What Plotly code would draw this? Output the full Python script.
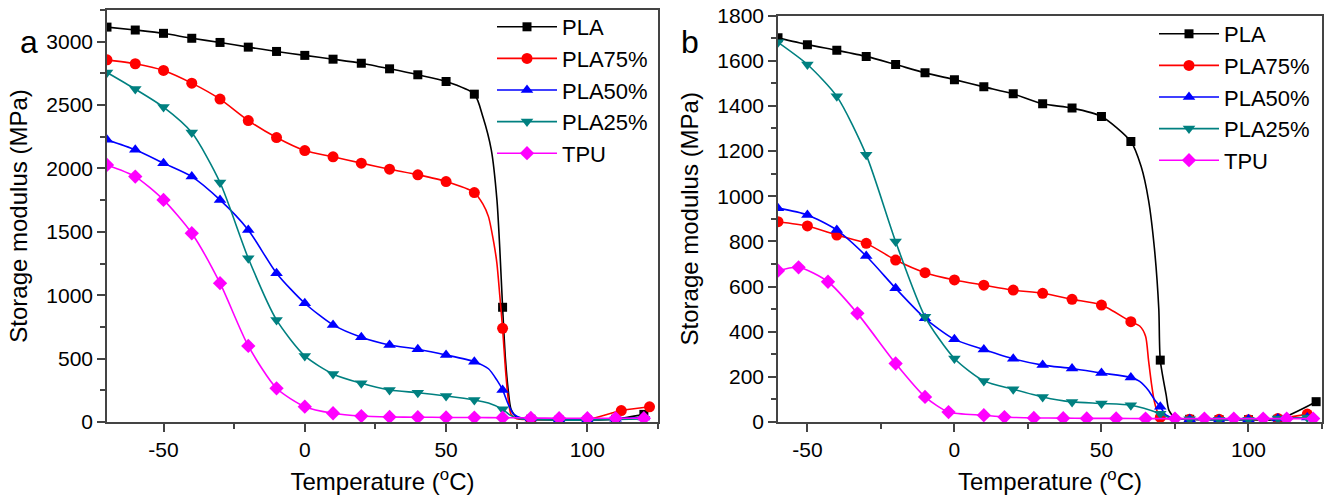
import plotly.graph_objects as go

# ---------------- Panel a: storage modulus vs temperature ----------------
T_A = [-70, -60, -50, -40, -30, -20, -10, 0, 10, 20, 30, 40, 50, 60, 70, 80, 90, 100, 110, 120]
PLA_A = [3115, 3092, 3066, 3027, 2994, 2957, 2923, 2892, 2862, 2830, 2786, 2739, 2686, 2586, 905, 22, 15, 15, 22, 60]
PLA75_A_T = [-70, -60, -50, -40, -30, -20, -10, 0, 10, 20, 30, 40, 50, 60, 70, 80, 90, 100, 112, 122]
PLA75_A = [2857, 2826, 2773, 2673, 2547, 2378, 2244, 2141, 2092, 2042, 1994, 1950, 1897, 1810, 739, 20, 18, 20, 90, 120]
PLA50_A = [2226, 2147, 2042, 1936, 1752, 1515, 1174, 937, 766, 669, 608, 574, 529, 476, 253, 28, 20, 20, 25, 35]
PLA25_A = [2757, 2626, 2484, 2283, 1889, 1292, 805, 521, 379, 305, 253, 231, 205, 174, 100, 20, 15, 15, 20, 25]
TPU_A = [2028, 1936, 1752, 1489, 1095, 600, 266, 121, 69, 47, 40, 38, 36, 35, 34, 32, 30, 30, 30, 30]

# extra points along the steep softening region (line only, no symbol)
PLA_A_DROP_T = [63, 66, 68, 69, 71, 72, 73, 75]
PLA_A_DROP = [2410, 2147, 1752, 1373, 500, 250, 100, 40]
PLA75_A_DROP_T = [63, 65, 67, 68, 69, 71, 72, 73, 75]
PLA75_A_DROP = [1720, 1620, 1400, 1250, 1000, 420, 180, 60, 25]
PLA50_A_DROP_T = [65, 68, 72, 74, 77]
PLA50_A_DROP = [420, 330, 140, 60, 30]
PLA25_A_DROP_T = [65, 73, 76]
PLA25_A_DROP = [150, 50, 25]

# ---------------- Panel b ----------------
T_B = [-60, -50, -40, -30, -20, -10, 0, 10, 20, 30, 40, 50, 60, 70, 80, 90, 100, 110, 120]
PLA_B_T = [-60, -50, -40, -30, -20, -10, 0, 10, 20, 30, 40, 50, 60, 70, 80, 90, 100, 110, 123]
PLA_B = [1701, 1671, 1646, 1619, 1583, 1546, 1516, 1484, 1453, 1409, 1390, 1353, 1242, 274, 12, 10, 10, 12, 90]
PLA75_B = [887, 868, 828, 791, 717, 661, 629, 606, 584, 570, 543, 518, 444, 20, 12, 12, 10, 15, 35]
PLA50_B = [947, 917, 850, 735, 592, 459, 366, 321, 280, 252, 237, 217, 197, 67, 12, 10, 12, 15, 20]
PLA25_B = [1681, 1583, 1442, 1183, 799, 466, 281, 182, 145, 111, 89, 82, 74, 37, 12, 10, 10, 15, 20]
TPU_B_T = [-60, -53, -43, -33, -20, -10, -2, 10, 17, 27, 37, 45, 55, 65, 75, 85, 95, 105, 113, 122]
TPU_B = [670, 685, 621, 481, 259, 111, 44, 30, 22, 18, 17, 16, 16, 15, 15, 15, 15, 15, 15, 15]

PLA_B_DROP_T = [63.5, 66, 68, 69.5, 72, 73, 75]
PLA_B_DROP = [1131, 983, 770, 500, 120, 50, 20]
PLA75_B_DROP_T = [63, 65, 66, 67, 68, 69]
PLA75_B_DROP = [425, 380, 274, 170, 90, 45]
PLA50_B_DROP_T = [63, 66, 68, 72, 75]
PLA50_B_DROP = [180, 140, 100, 30, 15]
PLA25_B_DROP_T = [73, 75]
PLA25_B_DROP = [20, 15]

# tick labels (plain hyphen for negatives)
X_TICKS = [-50, 0, 50, 100]
X_TICK_TEXT = ["-50", "0", "50", "100"]

NAMES = ["PLA", "PLA75%", "PLA50%", "PLA25%", "TPU"]
COLORS = ["#000000", "#FF0000", "#0000FF", "#008080", "#FF00FF"]
SYMBOLS = ["square", "circle", "triangle-up", "triangle-down", "diamond"]
SIZES = [9, 11, 11, 11, 11]

FONT = "Arial, Liberation Sans, sans-serif"

panel_a = [
    (T_A, PLA_A, PLA_A_DROP_T, PLA_A_DROP),
    (PLA75_A_T, PLA75_A, PLA75_A_DROP_T, PLA75_A_DROP),
    (T_A, PLA50_A, PLA50_A_DROP_T, PLA50_A_DROP),
    (T_A, PLA25_A, PLA25_A_DROP_T, PLA25_A_DROP),
    (T_A, TPU_A, [], []),
]
panel_b = [
    (PLA_B_T, PLA_B, PLA_B_DROP_T, PLA_B_DROP),
    (T_B, PLA75_B, PLA75_B_DROP_T, PLA75_B_DROP),
    (T_B, PLA50_B, PLA50_B_DROP_T, PLA50_B_DROP),
    (T_B, PLA25_B, PLA25_B_DROP_T, PLA25_B_DROP),
    (TPU_B_T, TPU_B, [], []),
]

fig = go.Figure()


def add_panel(series, xa, ya, legend_name):
    for i, (tx, vy, dx, dy) in enumerate(series):
        pts = sorted(zip(list(tx) + list(dx), list(vy) + list(dy)))
        fig.add_trace(go.Scatter(
            x=[p[0] for p in pts], y=[p[1] for p in pts], mode="lines",
            line=dict(color=COLORS[i], width=1.6, shape="spline", smoothing=0.7),
            xaxis=xa, yaxis=ya, showlegend=False, hoverinfo="skip"))
        fig.add_trace(go.Scatter(
            x=tx, y=vy, mode="markers", name=NAMES[i],
            marker=dict(color=COLORS[i], symbol=SYMBOLS[i], size=SIZES[i]),
            xaxis=xa, yaxis=ya, showlegend=False))
    # legend entries (line with symbol)
    for i in range(len(series)):
        fig.add_trace(go.Scatter(
            x=[None], y=[None], mode="lines+markers", name=NAMES[i],
            line=dict(color=COLORS[i], width=1.6),
            marker=dict(color=COLORS[i], symbol=SYMBOLS[i], size=SIZES[i]),
            xaxis=xa, yaxis=ya, legend=legend_name))


add_panel(panel_a, "x", "y", "legend")
add_panel(panel_b, "x2", "y2", "legend2")

axis_common = dict(
    showline=True, linecolor="#444444", linewidth=1.5, mirror=True,
    ticks="outside", ticklen=8, tickwidth=1.5, tickcolor="#444444",
    showgrid=False, zeroline=False, automargin=False,
    tickfont=dict(family=FONT, size=21, color="black"),
    minor=dict(ticks="outside", ticklen=5, tickwidth=1.5, tickcolor="#444444"),
)
xtitle = dict(text="Temperature (<sup>o</sup>C)", font=dict(family=FONT, size=24, color="black"), standoff=13)
ytitle = dict(text="Storage modulus (MPa)", font=dict(family=FONT, size=24, color="black"), standoff=12)

W, H = 1336, 502
fig.update_layout(
    width=W, height=H, margin=dict(l=0, r=0, t=0, b=0),
    paper_bgcolor="white", plot_bgcolor="white",
    xaxis=dict(axis_common, domain=[107 / W, 658 / W], range=[-70, 125],
               tickvals=X_TICKS, ticktext=X_TICK_TEXT,
               minor=dict(axis_common["minor"], dtick=25, tick0=0), title=xtitle, anchor="y"),
    yaxis=dict(axis_common, domain=[1 - 422 / H, 1 - 10 / H], range=[0, 3250], dtick=500,
               minor=dict(axis_common["minor"], dtick=250), title=ytitle, anchor="x"),
    xaxis2=dict(axis_common, domain=[778 / W, 1322 / W], range=[-60, 125],
                tickvals=X_TICKS, ticktext=X_TICK_TEXT,
                minor=dict(axis_common["minor"], dtick=25, tick0=0), title=xtitle, anchor="y2"),
    yaxis2=dict(axis_common, domain=[1 - 422 / H, 1 - 15.5 / H], range=[0, 1800], dtick=200,
                minor=dict(axis_common["minor"], dtick=100), title=ytitle, anchor="x2"),
    legend=dict(x=492 / W, y=1 - 6 / H, xanchor="left", yanchor="top",
                bgcolor="rgba(0,0,0,0)", font=dict(family=FONT, size=22, color="black"),
                itemwidth=60, tracegroupgap=0),
    legend2=dict(x=1154 / W, y=1 - 13 / H, xanchor="left", yanchor="top",
                 bgcolor="rgba(0,0,0,0)", font=dict(family=FONT, size=22, color="black"),
                 itemwidth=60, tracegroupgap=0),
    annotations=[
        dict(text="a", x=18 / W, y=1 - 22 / H, xref="paper", yref="paper", showarrow=False,
             font=dict(family=FONT, size=32, color="black")),
        dict(text="b", x=690 / W, y=1 - 22 / H, xref="paper", yref="paper", showarrow=False,
             font=dict(family=FONT, size=32, color="black")),
    ],
)

fig.write_html("out.html")
